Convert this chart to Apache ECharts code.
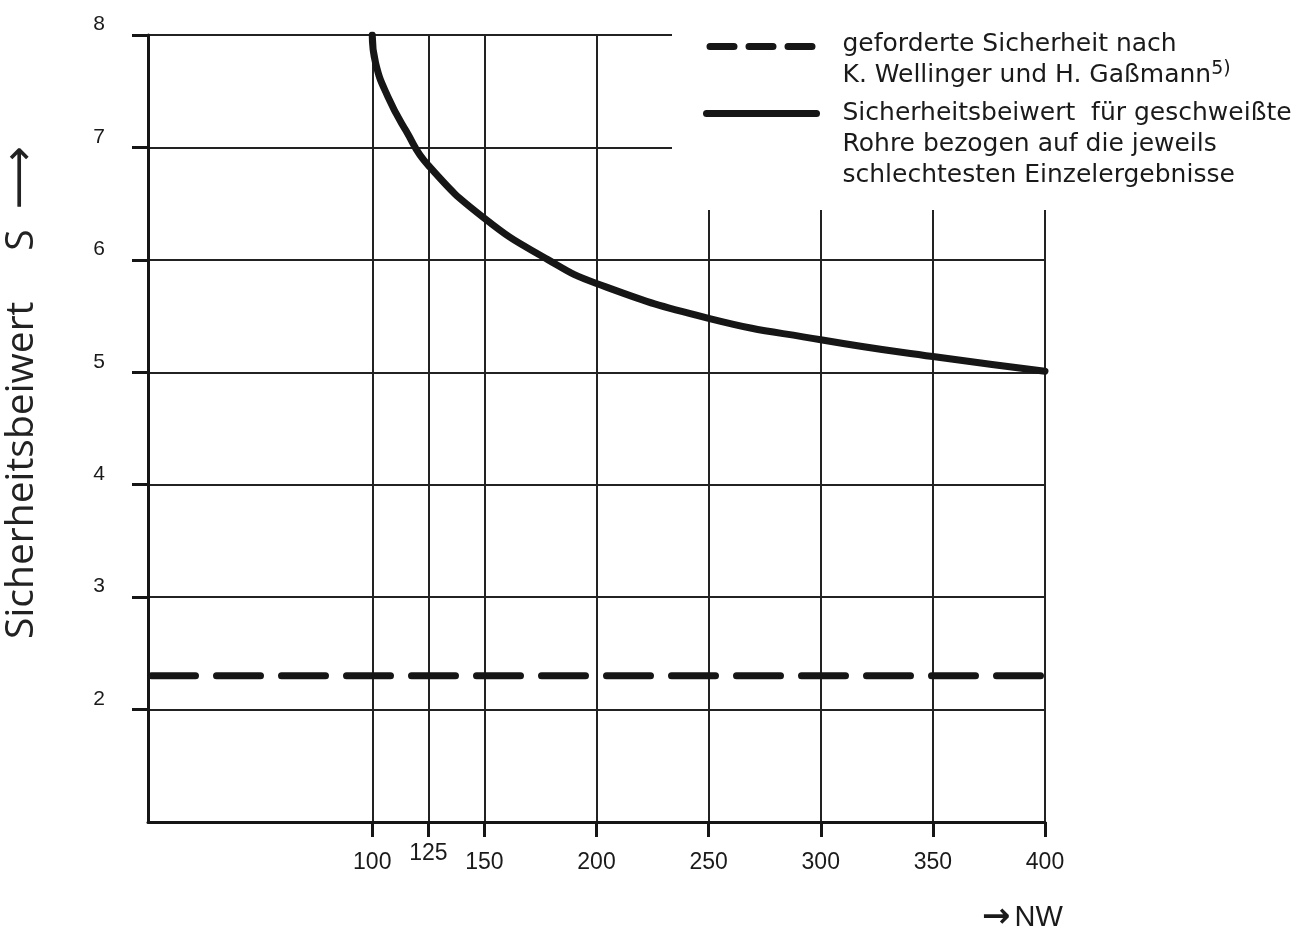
<!DOCTYPE html>
<html>
<head>
<meta charset="utf-8">
<script src="https://cdn.jsdelivr.net/npm/echarts@6/dist/echarts.min.js"></script>
<style>
html,body{margin:0;padding:0;background:#fff;}
#chart{width:1306px;height:933px;}
</style>
</head>
<body>
<div id="chart"></div>
<script>
// ---- data ----
const nwCurve = [100, 101.5, 107, 115, 125, 150, 178.5, 200, 250, 300, 350, 400];
const sCurve  = [8.0, 7.75, 7.45, 7.15, 6.84, 6.37, 6.0, 5.79, 5.48, 5.29, 5.14, 5.01];
const nwRequired = [0, 400];
const sRequired  = [2.3, 2.3];
const xTicks = [100, 125, 150, 200, 250, 300, 350, 400];
const yTicks = [2, 3, 4, 5, 6, 7, 8];

const legendReqText = ['geforderte Sicherheit nach', 'K. Wellinger und H. Gaßmann'];
const legendCurveText = ['Sicherheitsbeiwert  für geschweißte', 'Rohre bezogen auf die jeweils', 'schlechtesten Einzelergebnisse'];
const yNameWord = 'Sicherheitsbeiwert';
const yNameSymbol = 'S';
const xNameText = 'NW';

const ink = '#161616';
const chart = echarts.init(document.getElementById('chart'));

const curveData = nwCurve.map((x, i) => [x, sCurve[i]]);
const reqData = nwRequired.map((x, i) => [x, sRequired[i]]);

const legendBase = {
  orient: 'vertical',
  left: 672,
  itemWidth: 110,
  itemHeight: 14,
  selectedMode: false,
  backgroundColor: '#ffffff',
  itemStyle: { color: 'rgba(0,0,0,0)', opacity: 0, borderWidth: 0 },
  textStyle: {
    fontFamily: 'DejaVu Sans',
    fontSize: 25,
    color: '#1a1a1a',
    lineHeight: 31,
    padding: [0, 0, 0, 21]
  }
};

chart.setOption({
  animation: false,
  backgroundColor: '#ffffff',
  grid: { left: 148, right: 261, top: 35, bottom: 111, outerBoundsMode: 'none' },
  legend: [
    Object.assign({}, legendBase, {
      data: ['req'],
      top: 2,
      z: 6,
      padding: [0, 400, 0, 31],
      lineStyle: { width: 7, type: [24, 15], cap: 'round' },
      formatter: () => '{b| }\n' + legendReqText[0] + '\n' + legendReqText[1] + '{sup|5)}',
      textStyle: Object.assign({}, legendBase.textStyle, {
        rich: {
          b: { lineHeight: 27, fontSize: 10 },
          sup: { fontSize: 19, lineHeight: 19, verticalAlign: 'top', fontFamily: 'DejaVu Sans', color: '#1a1a1a' }
        }
      })
    }),
    Object.assign({}, legendBase, {
      data: ['curve'],
      top: 36,
      z: 5,
      padding: [0, 400, 19, 31],
      lineStyle: { width: 7, cap: 'round' },
      formatter: () => '{b| }\n' + legendCurveText.join('\n'),
      textStyle: Object.assign({}, legendBase.textStyle, {
        rich: { b: { lineHeight: 62, fontSize: 10 } }
      })
    })
  ],
  xAxis: {
    type: 'value',
    min: 0,
    max: 400,
    name: '{a|\u2192}{t|' + xNameText + '}',
    nameLocation: 'end',
    nameGap: -63,
    nameTextStyle: {
      verticalAlign: 'top',
      padding: [80, 0, 0, 0],
      rich: {
        a: { fontFamily: 'DejaVu Sans', fontSize: 34, lineHeight: 32, color: '#1a1a1a', fontWeight: 'bold', padding: [0, 4, 0, 0] },
        t: { fontFamily: 'Liberation Sans', fontSize: 29, lineHeight: 32, color: '#1a1a1a' }
      }
    },
    axisLine: { show: true, lineStyle: { color: ink, width: 3 } },
    axisTick: { show: true, customValues: xTicks, length: 15, lineStyle: { color: ink, width: 3 } },
    axisLabel: {
      customValues: xTicks,
      margin: 10,
      verticalAlign: 'top',
      fontFamily: 'Liberation Sans',
      fontSize: 23,
      color: '#1a1a1a',
      formatter: v => (v === 125 ? '{u|' + v + '}' : '{n|' + v + '}'),
      rich: {
        n: { lineHeight: 62, fontFamily: 'Liberation Sans', fontSize: 23, color: '#1a1a1a' },
        u: { lineHeight: 44, fontFamily: 'Liberation Sans', fontSize: 23, color: '#1a1a1a' }
      }
    },
    splitLine: { show: true, lineStyle: { color: '#222', width: 2 } }
  },
  yAxis: {
    type: 'value',
    min: 1,
    max: 8,
    interval: 1,
    name: '{t|' + yNameWord + '     ' + yNameSymbol + '  }{a|\u27F6}',
    nameLocation: 'middle',
    nameRotate: 90,
    nameGap: 104,
    nameTextStyle: {
      padding: [0, 0, 0, 72],
      rich: {
        t: { fontFamily: 'Open Sans', fontSize: 39, lineHeight: 44, color: '#222' },
        a: { fontFamily: 'DejaVu Sans', fontSize: 44, lineHeight: 44, color: '#222' }
      }
    },
    axisLine: { show: true, lineStyle: { color: ink, width: 3 } },
    axisTick: { show: true, customValues: yTicks, length: 16, lineStyle: { color: ink, width: 3 } },
    axisLabel: {
      customValues: yTicks,
      margin: 43,
      verticalAlign: 'bottom',
      fontFamily: 'Liberation Sans',
      fontSize: 21,
      lineHeight: 21,
      color: '#1a1a1a'
    },
    splitLine: { show: true, lineStyle: { color: '#222', width: 2 } }
  },
  series: [
    {
      name: 'req',
      type: 'line',
      data: reqData,
      symbol: 'none',
      silent: true,
      z: 3,
      itemStyle: { color: ink },
      lineStyle: { color: ink, width: 7, type: [44, 21], dashOffset: -3.5, cap: 'round' }
    },
    {
      name: 'curve',
      type: 'line',
      data: curveData,
      symbol: 'none',
      smooth: 0.5,
      silent: true,
      z: 3,
      itemStyle: { color: ink },
      lineStyle: { color: ink, width: 7, cap: 'round', join: 'round' }
    }
  ]
});
</script>
</body>
</html>
